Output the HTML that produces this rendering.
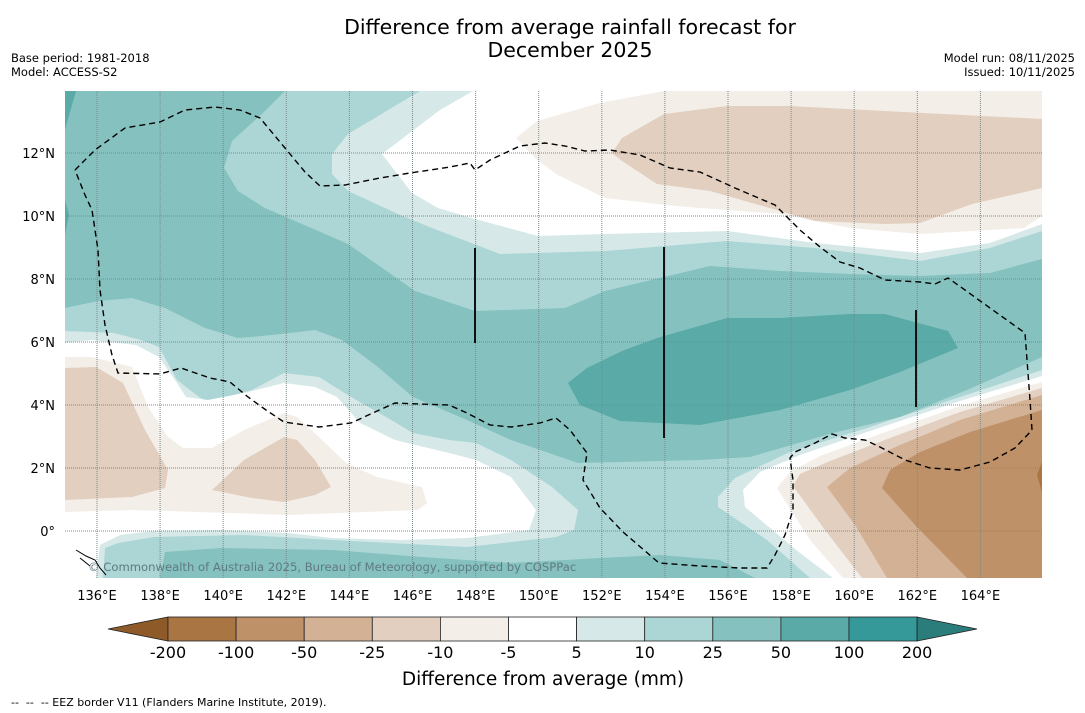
<!DOCTYPE html>
<html><head><meta charset="utf-8"><style>
body{margin:0;background:#fff;}
svg{display:block;font-family:"DejaVu Sans","Liberation Sans",sans-serif;}
</style></head><body>
<svg id="root" width="1085" height="713" viewBox="0 0 1085 713" xmlns="http://www.w3.org/2000/svg">
<rect width="1085" height="713" fill="#fff"/>
<text x="570" y="34" text-anchor="middle" font-size="20.5" fill="#000">Difference from average rainfall forecast for</text>
<text x="570" y="57" text-anchor="middle" font-size="20.5" fill="#000">December 2025</text>
<text x="11" y="62" font-size="11.5">Base period: 1981-2018</text>
<text x="11" y="76" font-size="11.5">Model: ACCESS-S2</text>
<text x="1075" y="62" font-size="11.5" text-anchor="end">Model run: 08/11/2025</text>
<text x="1075" y="76" font-size="11.5" text-anchor="end">Issued: 10/11/2025</text>

<defs><clipPath id="mapclip"><rect x="65" y="91" width="977" height="487"/></clipPath></defs>
<g clip-path="url(#mapclip)">
<rect x="65" y="91" width="977" height="487" fill="#acd6d5"/>
<polygon fill="#d6e9e8" points="420,91 1042,91 1042,231 990,248 920,261 815,248 727,241 605,251 500,254 432,228 398,214 348,191 332,174 332,154 348,134"/>
<polygon fill="#ffffff" points="473,91 1042,91 1042,224 990,243 920,253 815,243 727,231 605,234 538,236 475,219 438,208 412,193 382,154 440,110"/>
<polygon fill="#f3eee8" points="664,91 1042,91 1042,216 1024,228 972,231 920,234 850,228 780,214 675,206 605,198 556,174 535,158 516,138 537,121 600,103"/>
<polygon fill="#e2cfbf" points="664,114 727,106 790,106 885,111 1042,119 1042,188 972,204 920,223 885,224 815,221 710,191 657,184 622,161 612,153 622,138"/>
<polygon fill="#d6e9e8" points="65,331 114,333 141,340 159,347 177,380 199,397 208,402 252,390 284,373 319,377 351,397 386,417 413,433 449,440 476,443 511,460 552,487 578,510 574,530 556,537 467,547 333,540 244,535 154,537 118,543 105,548 103,578 65,578"/>
<polygon fill="#ffffff" points="65,343 92,340 136,345 159,357 177,383 186,397 208,400 244,393 284,383 315,387 337,397 360,423 395,440 449,453 476,460 511,477 536,510 529,530 467,538 400,540 333,538 288,533 221,530 154,531 120,535 100,545 96,578 65,578"/>
<polygon fill="#f3eee8" points="65,357 92,357 132,367 148,407 168,437 183,448 212,448 244,430 284,413 297,417 319,437 346,463 377,477 422,487 427,503 418,510 288,515 199,512 132,510 65,512"/>
<polygon fill="#e2cfbf" points="65,368 96,367 123,383 145,430 168,470 165,488 132,497 65,500"/>
<polygon fill="#e2cfbf" points="212,490 244,460 284,437 297,440 315,460 331,487 315,495 284,502 252,498"/>
<polygon fill="#84c1bf" points="65,91 285,91 265,111 232,141 224,168 238,191 265,208 348,244 415,291 475,311 565,308 605,291 710,266 780,271 850,274 920,276 990,273 1042,259 1042,357 967,390 900,417 833,433 750,457 700,460 578,463 511,440 467,420 413,397 378,367 342,340 315,330 290,333 252,337 238,338 205,328 165,308 132,298 98,301 65,308"/>
<polygon fill="#84c1bf" points="160,578 165,552 221,548 333,550 422,557 511,563 600,558 660,555 720,560 755,578"/>
<polygon fill="#5aaaa8" points="65,91 76,91 70,112 65,130"/>
<polygon fill="#5aaaa8" points="65,200 69,215 65,235"/>
<polygon fill="#5aaaa8" points="568,383 587,368 622,351 657,338 727,318 780,318 850,314 885,314 948,331 958,348 900,372 850,390 780,410 700,425 620,421 580,405"/>
<polygon fill="#d6e9e8" points="1042,370 960,397 867,428 790,452 735,478 718,497 718,507 767,540 810,578 1042,578"/>
<polygon fill="#ffffff" points="1042,376 960,401 867,432 800,455 760,472 743,490 745,507 800,553 833,578 1042,578"/>
<polygon fill="#f3eee8" points="1042,382 960,406 880,434 820,456 790,472 777,488 810,540 843,578 1042,578"/>
<polygon fill="#e2cfbf" points="1042,388 960,412 890,438 830,461 800,474 793,486 825,530 862,578 1042,578"/>
<polygon fill="#d3b195" points="1042,395 960,420 900,445 850,468 827,487 855,525 887,578 1042,578"/>
<polygon fill="#bf9168" points="1042,410 970,432 920,452 890,470 882,488 915,525 967,578 1042,578"/>
<polygon fill="#a97543" points="1042,462 1037,475 1042,492"/>
<g id="grid"></g>
<polyline fill="none" stroke="#000" stroke-width="1.4" stroke-dasharray="6,4" points="75,170 95,150 125,128 160,122 185,110 215,107 240,110 260,118 285,148 305,172 320,186 345,185 380,178 410,173 450,167 470,163 475,170 490,160 520,146 545,143 565,146 585,151 610,150 640,155 670,168 700,172 735,188 775,205 785,215 800,230 820,247 840,262 860,268 885,280 920,282 935,284 948,278 965,290 990,308 1025,333 1027,360 1030,400 1032,430 1015,448 990,462 960,470 930,468 905,460 880,447 865,440 845,438 832,434 815,443 795,452 790,458 793,480 793,510 785,535 775,555 767,568 740,568 700,566 659,563 623,532 600,508 583,480 587,453 570,430 556,418 540,423 511,427 490,425 467,413 449,405 420,404 395,403 375,412 351,423 319,427 284,422 266,410 248,397 230,382 210,378 181,368 160,374 118,373 112,355 105,325 100,290 98,250 92,210 85,195 75,170"/>
<g stroke="#111" stroke-width="2">
<line x1="475" y1="248" x2="475" y2="343"/>
<line x1="664" y1="247" x2="664" y2="438"/>
<line x1="916" y1="310" x2="916" y2="407"/>
</g>
<path d="M76,550 L86,556 95,560 100,568 106,575 M80,558 L90,566" stroke="#000" stroke-width="1" fill="none"/>
<text x="88" y="571" font-size="11.6" fill="#5f7a80">© Commonwealth of Australia 2025, Bureau of Meteorology, supported by COSPPac</text>
</g>
<g id="axes"></g>
<g id="colorbar"></g>
<text x="543" y="685" text-anchor="middle" font-size="18.5">Difference from average (mm)</text>
<text x="11" y="706" font-size="11" xml:space="preserve" style="white-space:pre">--  --  -- EEZ border V11 (Flanders Marine Institute, 2019).</text>
</svg>
<script>
const levels = [-200,-100,-50,-25,-10,-5,5,10,25,50,100,200];
const levelColors = ["#a97543","#bf9168","#d3b195","#e2cfbf","#f3eee8","#ffffff","#d6e9e8","#acd6d5","#84c1bf","#5aaaa8","#35999a"];
const extendColors = ["#8e5a28","#2b7d7b"];
const lonTicks = [136,138,140,142,144,146,148,150,152,154,156,158,160,162,164];
const latTicks = [0,2,4,6,8,10,12];

const NS = "http://www.w3.org/2000/svg";
function xLon(lon){ return 97 + (lon-136)*31.55; }
function yLat(lat){ return 531 - lat*31.5; }
function mk(tag, attrs, parent){ const e=document.createElementNS(NS,tag); for(const k in attrs) e.setAttribute(k,attrs[k]); parent.appendChild(e); return e; }

const grid = document.getElementById('grid');
lonTicks.forEach(lon=>{
  const l = mk('line',{x1:xLon(lon),x2:xLon(lon),y1:91,y2:578,stroke:'#7a8a8a','stroke-width':1,'stroke-dasharray':'1,1'},grid);
  
  
});
latTicks.forEach(lat=>{
  const l = mk('line',{x1:65,x2:1042,y1:yLat(lat),y2:yLat(lat),stroke:'#7a8a8a','stroke-width':1,'stroke-dasharray':'1,1'},grid);
  
  
});
const axes = document.getElementById('axes');
lonTicks.forEach(lon=>{
  const t = mk('text',{x:xLon(lon),y:600,'text-anchor':'middle','font-size':13},axes);
  t.textContent = lon+'°E';
  
  
});
latTicks.forEach(lat=>{
  const t = mk('text',{x:55,y:yLat(lat)+5,'text-anchor':'end','font-size':13},axes);
  t.textContent = lat===0 ? '0°' : lat+'°N';
  
  
});

const cb = document.getElementById('colorbar');
const cbX0 = 168, cbW = 68.1, cbY = 617, cbH = 24;
function cbX(i){ return cbX0 + i*cbW; }
const left = mk('polygon',{points:`${cbX(0)},${cbY} ${108},${cbY+cbH/2} ${cbX(0)},${cbY+cbH}`,fill:extendColors[0],stroke:'#222','stroke-width':0.8},cb);


levelColors.forEach((c,i)=>{
  const r = mk('rect',{x:cbX(i),y:cbY,width:cbW,height:cbH,fill:c,stroke:'#222','stroke-width':0.8},cb);
  
  
});
const n = levelColors.length;
const right = mk('polygon',{points:`${cbX(n)},${cbY} ${977},${cbY+cbH/2} ${cbX(n)},${cbY+cbH}`,fill:extendColors[1],stroke:'#222','stroke-width':0.8},cb);


levels.forEach((v,i)=>{
  const t = mk('text',{x:cbX(i),y:658,'text-anchor':'middle','font-size':16},cb);
  t.textContent = v;
  
  
});
</script>
</body></html>
